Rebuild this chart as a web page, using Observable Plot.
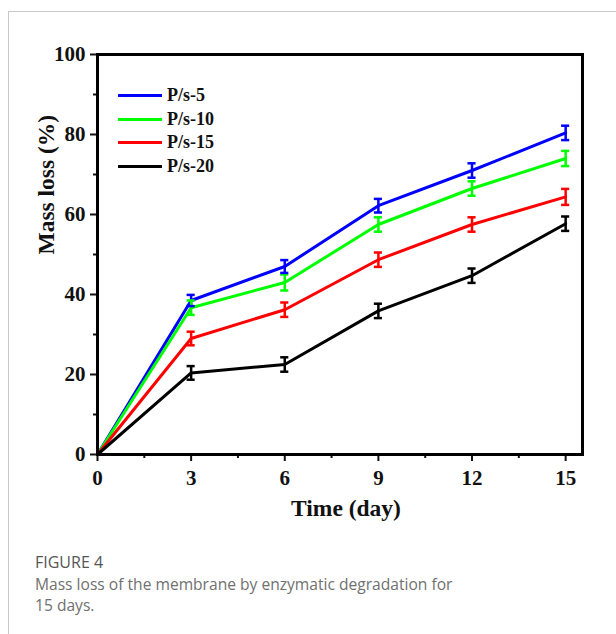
<!DOCTYPE html>
<html>
<head>
<meta charset="utf-8">
<script src="https://cdn.jsdelivr.net/npm/d3@7"></script>
<script src="https://cdn.jsdelivr.net/npm/@observablehq/plot@0.6"></script>
<style>
  html, body { margin: 0; padding: 0; background: #fff; }
  #page { position: relative; width: 616px; height: 634px; overflow: hidden; }
  #card { position: absolute; left: 8px; top: 11px; right: -2px; bottom: -2px;
          border-top: 1px solid #c8c8c8; border-left: 1px solid #c8c8c8; }
  #chart { position: absolute; left: 0; top: 0; }
  #legend { position: absolute; left: 118px; top: 0; font-family: "Liberation Serif", "Times New Roman", serif;
            font-weight: bold; font-size: 18px; color: #111; }
  .item { position: absolute; left: 0; height: 20px; display: flex; align-items: center; white-space: nowrap; }
  .swatch { width: 44px; height: 3px; margin-right: 5px; }
  #caption { position: absolute; left: 35px; top: 552px; font-family: "Open Sans", "Noto Sans", sans-serif;
             color: #707070; font-size: 15.6px; line-height: 21px; }
  #caption .fig { color: #555; font-size: 16px; font-weight: 500; margin-bottom: 1px; }
</style>
</head>
<body>
<div id="page">
  <div id="card"></div>
  <div id="chart"></div>
  <div id="legend"></div>
  <div id="caption">
    <div class="fig">FIGURE 4</div>
    <div>Mass loss of the membrane by enzymatic degradation for<br>15 days.</div>
  </div>
</div>
<script>
// ---- data ----
const times = [0, 3, 6, 9, 12, 15];
const seriesNames = ["P/s-5", "P/s-10", "P/s-15", "P/s-20"];
const seriesColors = ["#0000ff", "#00ff00", "#ff0000", "#000000"];
const ps5  = [0, 38.5, 47.0, 62.2, 71.0, 80.4];
const ps10 = [0, 36.7, 43.0, 57.5, 66.5, 74.0];
const ps15 = [0, 29.0, 36.2, 48.7, 57.5, 64.4];
const ps20 = [0, 20.4, 22.5, 35.9, 44.7, 57.7];
const err5  = [0, 1.4, 1.6, 1.7, 1.8, 1.8];
const err10 = [0, 1.8, 2.0, 1.8, 1.8, 1.9];
const err15 = [0, 1.7, 1.8, 1.8, 1.8, 2.0];
const err20 = [0, 1.7, 1.8, 1.8, 1.8, 1.8];
const xTicks = [0, 3, 6, 9, 12, 15];
const xMinor = [1.5, 4.5, 7.5, 10.5, 13.5];
const yTicks = [0, 20, 40, 60, 80, 100];
const yMinor = [10, 30, 50, 70, 90];
const xLabel = "Time (day)";
const yLabel = "Mass loss (%)";

// ---- table ----
const values = [ps5, ps10, ps15, ps20];
const errors = [err5, err10, err15, err20];
const rows = [];
seriesNames.forEach((s, i) => times.forEach((t, j) => rows.push({series: s, t, v: values[i][j], e: errors[i][j]})));
const errRows = rows.filter(d => d.e > 0);
const capHalf = 0.13;

const fontFam = "'Liberation Serif', 'Times New Roman', serif";

const chart = Plot.plot({
  width: 616,
  height: 530,
  marginLeft: 97,
  marginRight: 34,
  marginTop: 54,
  marginBottom: 76,
  x: {domain: [0, 15.54]},
  y: {domain: [0, 100]},
  color: {domain: seriesNames, range: seriesColors},
  style: {fontFamily: fontFam, fontSize: "21px", fontWeight: "bold", color: "#111", background: "transparent", overflow: "visible"},
  marks: [
    Plot.axisY({ticks: yTicks, tickSize: 7, tickPadding: 5, strokeWidth: 2, label: null, fontSize: 21}),
    Plot.axisY({ticks: yMinor, tickSize: 4, strokeWidth: 2, label: null, tickFormat: () => ""}),
    Plot.axisX({ticks: xTicks, tickSize: 7, tickPadding: 9, strokeWidth: 2, label: null, fontSize: 21}),
    Plot.axisX({ticks: xMinor, tickSize: 4, strokeWidth: 2, label: null, tickFormat: () => ""}),
    Plot.line(rows, {x: "t", y: "v", z: "series", stroke: "series", strokeWidth: 3}),
    Plot.ruleX(errRows, {x: "t", y1: d => d.v - d.e, y2: d => d.v + d.e, stroke: "series", strokeWidth: 2.5}),
    Plot.ruleY(errRows, {y: d => d.v + d.e, x1: d => d.t - capHalf, x2: d => d.t + capHalf, stroke: "series", strokeWidth: 2.5}),
    Plot.ruleY(errRows, {y: d => d.v - d.e, x1: d => d.t - capHalf, x2: d => d.t + capHalf, stroke: "series", strokeWidth: 2.5}),
    Plot.frame({stroke: "#000", strokeWidth: 3}),
    Plot.text([xLabel], {text: d => d, frameAnchor: "bottom", dx: 6, dy: 54, fontSize: 23.5, fontWeight: "bold", lineAnchor: "middle"}),
    Plot.text([yLabel], {text: d => d, frameAnchor: "left", dx: -51, dy: 0, rotate: -90, fontSize: 23.5, fontWeight: "bold", lineAnchor: "middle"})
  ]
});
document.getElementById("chart").appendChild(chart);

// ---- legend ----
const legendY = [95, 119, 142, 166];
const legend = document.getElementById("legend");
seriesNames.forEach((s, i) => {
  const item = document.createElement("div");
  item.className = "item";
  item.style.top = (legendY[i] - 10) + "px";
  const sw = document.createElement("div");
  sw.className = "swatch";
  sw.style.background = seriesColors[i];
  const tx = document.createElement("span");
  tx.textContent = s;
  item.appendChild(sw);
  item.appendChild(tx);
  legend.appendChild(item);
});
</script>
</body>
</html>
